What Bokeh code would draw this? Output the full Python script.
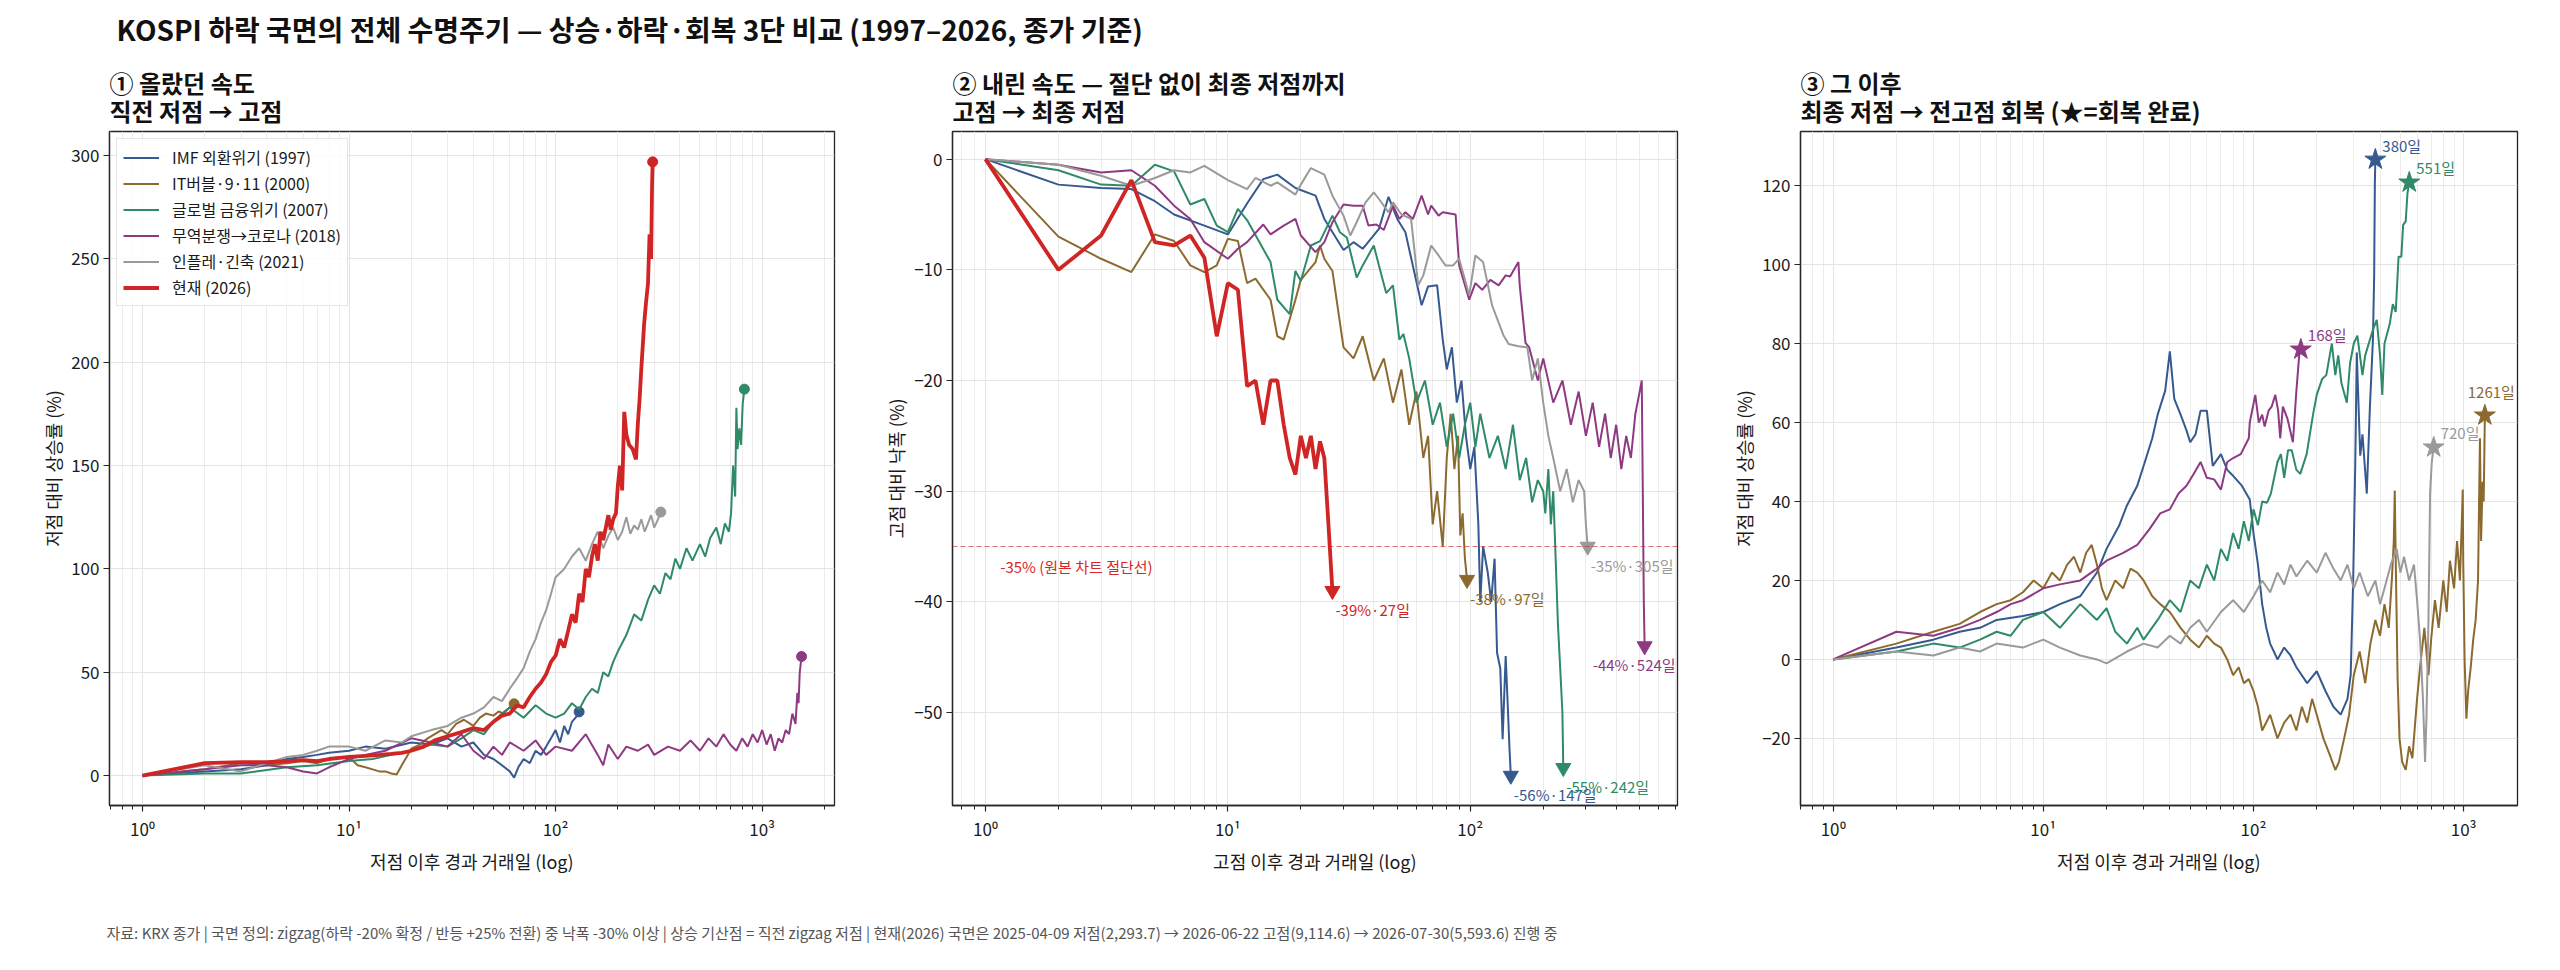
from bokeh.plotting import figure
from bokeh.layouts import column, row
from bokeh.models import Range1d, FixedTicker, Legend, LegendItem, Label, Span
from bokeh.core.properties import value
from bokeh.embed import file_html
from bokeh.resources import INLINE

FONT = "Noto Sans CJK KR"

# ---------------- texts ----------------
TITLE = "KOSPI 하락 국면의 전체 수명주기 — 상승·하락·회복 3단 비교  (1997–2026, 종가 기준)"
SUBTITLES = [("① 올랐던 속도", "직전 저점 → 고점"),
             ("② 내린 속도 — 절단 없이 최종 저점까지", "고점 → 최종 저점"),
             ("③ 그 이후", "최종 저점 → 전고점 회복 (★=회복 완료)")]
XLABELS = ["저점 이후 경과 거래일 (log)", "고점 이후 경과 거래일 (log)", "저점 이후 경과 거래일 (log)"]
YLABELS = ["저점 대비 상승률 (%)", "고점 대비 낙폭 (%)", "저점 대비 상승률 (%)"]
FOOTER = ("자료: KRX 종가 | 국면 정의: zigzag(하락 -20% 확정 / 반등 +25% 전환) 중 낙폭 -30% 이상 | "
          "상승 기산점 = 직전 zigzag 저점 | 현재(2026) 국면은 2025-04-09 저점(2,293.7) → "
          "2026-06-22 고점(9,114.6) → 2026-07-30(5,593.6) 진행 중")
NAMES = ["IMF 외환위기 (1997)", "IT버블·9·11 (2000)", "글로벌 금융위기 (2007)",
         "무역분쟁→코로나 (2018)", "인플레·긴축 (2021)", "현재 (2026)"]
CUT_LEVEL = -35
CUT_TEXT = "-35% (원본 차트 절단선)"
X_TICKS = [1, 10, 100, 1000]
X_TICK_LABELS = ["10⁰", "10¹", "10²", "10³"]
Y_TICKS = [[0, 50, 100, 150, 200, 250, 300],
           [0, -10, -20, -30, -40, -50],
           [-20, 0, 20, 40, 60, 80, 100, 120]]

# ---------------- panel 1: rise (low -> peak) ----------------
imf_up_day = [1, 2, 3, 4, 5, 6, 7, 8, 10, 12, 15, 20, 25, 30, 35, 40, 45, 50, 55, 60, 63, 66, 70, 75, 80,
              85, 90, 95, 100, 105, 110, 115, 120, 125, 130]
imf_up_pct = [0, 2, 3, 5, 8, 9, 10, 11, 12, 14, 13, 16, 15, 18, 14, 16, 10, 8, 5, 2, -1, 4, 8, 6, 12,
              10, 14, 18, 22, 16, 24, 20, 26, 28, 30.8]
it_up_day = [1, 2, 3, 4, 5, 6, 7, 8, 9, 10, 11, 12, 13, 14, 15, 16, 17, 18, 19, 20, 22, 24, 26, 28, 30,
             33, 36, 40, 43, 46, 50, 53, 56, 60, 63]
it_up_pct = [0, 3, 6, 5, 6, 7, 6, 8, 9, 9, 5, 4, 3, 2, 2, 1, 0.5, 5, 9, 13, 15, 18, 20, 22, 20,
             25, 27, 24, 28, 30, 29, 31, 30, 33, 34.7]
gfc_up_day = [1, 2, 3, 5, 7, 10, 13, 16, 20, 25, 30, 35, 40, 45, 50, 55, 60, 70, 80, 90, 100, 110, 120, 130,
              140, 150, 160, 170, 180, 190, 200, 220, 240, 260, 280, 300, 320, 340, 360, 380, 400, 430, 460,
              500, 530, 560, 600, 630, 660, 690, 707, 723, 740, 750, 760, 775, 790, 805, 820]
gfc_up_pct = [0, 1, 1, 4, 5, 7, 8, 10, 12, 15, 14, 18, 22, 20, 26, 30, 33, 28, 34, 30, 28, 30, 35, 32,
              38, 42, 40, 50, 48, 55, 60, 68, 78, 75, 85, 92, 88, 98, 95, 105, 100, 110, 104,
              112, 106, 115, 120, 112, 122, 118, 127, 150, 135, 178, 158, 168, 160, 180, 187]
p18_up_day = [1, 2, 3, 4, 5, 6, 7, 8, 10, 12, 15, 20, 25, 30, 35, 40, 45, 50, 55, 60, 70, 80, 90, 100,
              120, 140, 160, 170, 180, 200, 220, 250, 280, 300, 350, 400, 450, 500, 550, 600, 650, 700,
              750, 800, 850, 900, 950, 1000, 1050, 1100, 1150, 1200, 1250, 1300, 1350, 1400, 1450, 1480,
              1500, 1520, 1551]
p18_up_pct = [0, 3, 5, 5, 4, 2, 1, 4, 8, 10, 12, 18, 16, 14, 20, 12, 8, 14, 10, 16, 12, 17, 10, 14,
              12, 20, 10, 5, 15, 8, 14, 12, 15, 10, 14, 12, 17, 12, 18, 14, 20, 15,
              12, 18, 14, 20, 16, 22, 15, 20, 12, 18, 16, 22, 20, 30, 25, 40,
              35, 50, 57.6]
p21_up_day = [1, 2, 3, 4, 5, 6, 7, 8, 10, 12, 15, 18, 20, 25, 30, 35, 40, 45, 50, 55, 60, 65, 70, 75, 80,
              85, 90, 95, 100, 110, 120, 130, 140, 150, 160, 170, 180, 190, 200, 210, 220, 230, 240, 250,
              260, 270, 280, 290, 300, 310, 323]
p21_up_pct = [0, 5, 2, 6, 9, 10, 12, 14, 14, 12, 17, 16, 19, 22, 24, 28, 30, 33, 38, 36, 42, 47, 52, 60, 66,
              74, 80, 88, 96, 100, 106, 110, 104, 112, 118, 110, 116, 120, 114, 118, 125, 117, 121, 119,
              124, 118, 122, 126, 120, 123, 127.5]
cur_up_day = [1, 2, 3, 4, 5, 6, 7, 8, 9, 10, 12, 14, 16, 18, 20, 23, 26, 30, 35, 40, 45, 50, 55, 60, 65,
              70, 75, 80, 85, 90, 95, 100, 105, 110, 115, 120, 125, 130, 135, 140, 145, 150, 155, 160, 165,
              170, 175, 180, 185, 190, 196, 200, 205, 210, 215, 220, 227, 236, 245, 250, 255, 260, 265,
              268, 274, 280, 285, 290, 293, 295]
cur_up_pct = [0, 6, 6.5, 6.5, 7, 7.5, 7, 8, 8.5, 9, 9.5, 10, 10.5, 11, 12, 14, 17, 19, 21, 23, 22, 26, 29,
              30, 34, 33, 38, 42, 45, 49, 55, 58, 66, 62, 70, 78, 74, 88, 84, 100, 96, 106, 112, 104, 118,
              114, 120, 126, 119, 124, 127, 140, 150, 138, 176, 165, 160, 158, 153, 170, 182, 197, 210,
              218, 229, 238, 262, 250, 285, 297]

# ---------------- panel 2: decline (peak -> final low) ----------------
imf_dn_day = [1, 2, 3, 4, 5, 6, 8, 10, 12, 14, 16, 19, 23, 25, 30, 33, 36, 42, 46, 50, 54, 61, 63, 67, 73,
              77, 80, 84, 88, 92, 96, 100, 104, 108, 110, 113, 118, 122, 126, 129, 133, 136, 140, 143,
              145, 147]
imf_dn_pct = [0, -2.3, -2.6, -2.7, -3.8, -5.0, -6, -6.8, -4, -1.8, -1.4, -2.6, -3.3, -5.4, -8.2, -7.5,
              -8.1, -6.3, -3.4, -5.4, -6.6, -11.8, -13.2, -11.5, -11.4, -16.3, -19, -17, -22, -20, -25,
              -28, -26, -33, -40, -35, -37.3, -40, -36.1, -44.6, -46, -52.4, -44.9, -49.7, -53, -55.7]
it_dn_day = [1, 2, 3, 4, 5, 6, 7, 8, 9, 10, 11, 12, 13, 15, 16, 17, 19, 20, 23, 24, 25, 27, 30, 33, 36,
             40, 44, 48, 52, 56, 60, 64, 67, 70, 73, 77, 80, 83, 86, 89, 91, 93, 95, 97]
it_dn_pct = [0, -7, -9, -10.2, -6.8, -7.4, -9.6, -10.2, -9.6, -7.2, -7.4, -11.2, -10.8, -12.7, -16,
             -16.3, -12.7, -10.9, -9.3, -7.8, -9.0, -10.1, -17, -18, -16, -20, -18, -22, -19, -24, -21,
             -27, -25, -33, -30, -35, -27, -23, -28, -25, -34, -32, -36, -38]
gfc_dn_day = [1, 2, 3, 4, 5, 6, 7, 8, 9, 10, 11, 12, 15, 16, 18, 19, 20, 22, 24, 27, 29, 31, 34, 36, 40,
              42, 45, 48, 51, 53, 56, 60, 65, 70, 75, 80, 85, 90, 95, 100, 105, 110, 120, 130, 140, 150,
              160, 170, 180, 190, 200, 204, 210, 215, 220, 225, 230, 235, 240, 242]
gfc_dn_pct = [0, -1, -2.3, -2.4, -0.5, -1.1, -4.1, -3.6, -6, -6.6, -4.5, -5.5, -9.3, -12.7, -14, -10.1,
              -11, -7.8, -7.4, -5.1, -6.6, -7.1, -10.7, -9.6, -7.8, -9.6, -12.1, -11.4, -16.3, -15.8,
              -18, -22, -20, -24, -22, -26, -23, -27, -24, -22, -26, -23, -27, -25, -28, -24, -29, -27,
              -31, -29, -30, -32, -28, -33, -30, -36, -42, -46, -50, -55]
p18_dn_day = [1, 2, 3, 4, 5, 6, 7, 8, 10, 11, 12, 14, 15, 17, 19, 20, 23, 25, 27, 30, 33, 36, 38, 41, 44,
              48, 51, 54, 58, 63, 67, 69, 74, 77, 87, 90, 99, 105, 112, 121, 131, 140, 146, 158, 160,
              169, 175, 190, 200, 220, 240, 260, 280, 300, 320, 340, 360, 380, 400, 420, 440, 460, 480,
              500, 510, 515, 520, 524]
p18_dn_pct = [0, -0.5, -1.2, -1.0, -2.4, -4.2, -5.4, -7.5, -9.0, -8.1, -7.5, -5.9, -6.8, -6.0, -5.4,
              -6.9, -8.4, -7.5, -5.7, -4.1, -4.2, -4.2, -6.0, -5.9, -6.4, -4.2, -5.4, -4.8, -5.4, -3.3,
              -5.0, -4.2, -5.1, -4.8, -5.0, -9.6, -12.7, -11.2, -11.8, -10.9, -11.4, -10.5, -10.6,
              -9.3, -11.4, -16.6, -17, -20, -18, -22, -20, -24, -21, -25, -22, -26, -23, -27, -24, -28,
              -25, -27, -23, -21, -20, -30, -40, -44]
p21_dn_day = [1, 2, 3, 4, 5, 6, 7, 8, 10, 12, 13, 15, 16, 19, 20, 22, 25, 27, 30, 32, 34, 37, 40, 42, 46,
              48, 52, 57, 61, 64, 69, 74, 79, 85, 90, 99, 105, 113, 123, 137, 144, 158, 172, 180, 190,
              200, 210, 220, 235, 250, 265, 280, 295, 300, 305]
p21_dn_pct = [0, -0.5, -1.5, -2.4, -1.7, -1.0, -1.2, -0.6, -1.9, -2.7, -1.7, -2.4, -2.1, -3.2, -2.3,
              -0.8, -1.4, -3.3, -5.1, -6.9, -5.7, -3.9, -3.0, -3.6, -4.8, -3.9, -5.0, -5.4, -11.4,
              -10.5, -7.8, -8.7, -9.6, -9.6, -9.0, -12.3, -8.7, -9.3, -13.2, -15.9, -16.7, -16.9, -17,
              -20, -18, -22, -25, -27, -30, -28, -31, -29, -30, -33, -35]
cur_dn_day = [1, 2, 3, 4, 5, 6, 7, 8, 9, 10, 11, 12, 13, 14, 15, 16, 17, 18, 19, 20, 21, 22, 23, 24, 25,
              26, 27]
cur_dn_pct = [0, -10, -6.9, -1.9, -7.5, -7.8, -6.9, -8.9, -16, -11.2, -11.8, -20.5, -20, -24, -20, -20,
              -24, -27, -28.5, -25, -27, -25, -28, -25.5, -27, -33, -39]

# ---------------- panel 3: recovery (final low -> prior peak) ----------------
imf_rec_day = [1, 2, 3, 4, 5, 6, 8, 10, 12, 15, 18, 20, 23, 25, 28, 30, 33, 35, 38, 40, 42, 45, 48, 50,
               53, 56, 60, 64, 70, 75, 80, 88, 96, 100, 105, 110, 115, 120, 125, 130, 140, 150, 160, 180,
               200, 220, 240, 260, 280, 290, 298, 305, 310, 322, 330, 346, 358, 370, 375, 378, 380]
imf_rec_pct = [0, 3, 5, 7, 8, 10, 11, 12, 14, 16, 22, 28, 34, 39, 44, 49, 56, 62, 68, 78, 66, 62, 58, 55,
               57, 63, 63, 49, 52, 48, 46.5, 44, 40.5, 32, 24, 14, 8, 4, 2, 0, 3, 1, -2, -6, -3, -8, -12,
               -14, -10, -4, 20, 50, 77.7, 51.6, 57, 42, 64, 81, 97, 121, 126.6]
it_rec_day = [1, 2, 3, 4, 5, 6, 7, 8, 9, 10, 11, 12, 13, 14, 15, 16, 17, 18, 19, 20, 22, 24, 26, 28, 30,
              33, 36, 40, 45, 50, 55, 60, 65, 70, 75, 80, 85, 90, 95, 100, 105, 110, 120, 130, 140, 150,
              160, 170, 180, 190, 200, 215, 230, 245, 255, 270, 285, 300, 320, 340, 360, 380, 400, 420,
              440, 455, 465, 470, 475, 485, 495, 510, 530, 550, 570, 600, 620, 650, 680, 700, 730, 760,
              800, 830, 860, 900, 930, 960, 990, 995, 1010, 1030, 1050, 1080, 1110, 1140, 1170, 1195,
              1210, 1230, 1245, 1261]
it_rec_pct = [0, 4, 7, 9, 12, 14, 15, 17, 20, 18, 22, 20, 24, 26, 22, 27, 29, 24, 18, 15, 20, 18, 23, 22,
              20, 16, 14, 12, 8, 5, 3, 6, 4, 3, 0, -4, -2, -6, -5, -8, -12, -18, -14, -20, -16, -14, -18,
              -12, -16, -10, -14, -20, -24, -28, -26, -20, -14, -4, 2, -6, 4, 10, 6, 14, 8, 20, 30, 42.8,
              25, -5, -20, -26, -28, -22, -25, -10, -2, 8, -4, 5, 15, 8, 20, 12, 25, 18, 30, 20, 43, 25,
              0, -15, -8, -2, 5, 10, 20, 56, 30, 45, 40, 61.8]
gfc_rec_day = [1, 2, 3, 4, 5, 6, 7, 8, 10, 12, 15, 18, 20, 22, 25, 28, 30, 35, 40, 45, 50, 55, 60, 65, 70,
               75, 80, 85, 90, 95, 100, 105, 110, 116, 121, 130, 135, 140, 146, 152, 160, 167, 179, 192,
               200, 212, 222, 236, 245, 253, 262, 278, 288, 300, 312, 330, 340, 370, 386, 400, 410, 420,
               445, 460, 475, 490, 505, 515, 530, 540, 551]
gfc_rec_pct = [0, 2, 4, 3, 5, 7, 6, 10, 12, 8, 14, 10, 13, 7, 4, 8, 5, 10, 15, 12, 20, 18, 24, 20, 28,
               25, 32, 28, 35, 30, 38, 34, 40, 39.7, 42, 50, 52, 46, 53, 53, 48, 47, 52, 62, 67, 71, 72,
               80, 72, 77, 70, 65, 75, 80, 82, 72, 77, 83.5, 86, 77, 67, 80, 85, 90, 88, 102, 102, 110,
               111, 118, 120.8]
p18_rec_day = [1, 2, 3, 4, 5, 6, 7, 8, 10, 12, 15, 18, 20, 24, 28, 32, 36, 40, 44, 48, 52, 56, 60, 65, 70,
               75, 80, 87, 95, 96, 102, 106, 110, 113, 118, 122, 127, 131, 134, 138, 145, 154, 160, 165,
               168]
p18_rec_pct = [0, 7, 6, 8, 10, 12, 14, 15, 18, 19, 20, 23, 25, 27, 29, 33, 37, 38, 42, 44, 47, 50, 46,
               45.6, 43, 50, 51, 52, 56, 60, 67, 60, 62, 59, 63, 64, 67, 63, 56, 64, 61, 55, 68, 77, 78.5]
p21_rec_day = [1, 2, 3, 4, 5, 6, 8, 10, 12, 15, 18, 20, 25, 30, 35, 40, 45, 50, 55, 60, 70, 80, 90, 100,
               110, 120, 130, 140, 150, 160, 180, 200, 220, 240, 260, 280, 300, 320, 350, 380, 400, 420,
               450, 480, 500, 520, 550, 580, 600, 620, 640, 655, 665, 680, 692, 705, 720]
p21_rec_pct = [0, 2, 1, 3, 2, 4, 3, 5, 3, 1, 0, -1, 2, 4, 3, 6, 4, 8, 10, 7, 12, 15, 12, 16, 20, 17, 22,
               19, 24, 21, 25, 22, 27, 23, 20, 24, 18, 22, 16, 20, 14, 18, 24, 28, 22, 26, 20, 24, 15, 5,
               -10, -26, -15, 10, 42, 50, 53.7]

RISE = [(imf_up_day, imf_up_pct), (it_up_day, it_up_pct), (gfc_up_day, gfc_up_pct),
        (p18_up_day, p18_up_pct), (p21_up_day, p21_up_pct), (cur_up_day, cur_up_pct)]
FALL = [(imf_dn_day, imf_dn_pct), (it_dn_day, it_dn_pct), (gfc_dn_day, gfc_dn_pct),
        (p18_dn_day, p18_dn_pct), (p21_dn_day, p21_dn_pct), (cur_dn_day, cur_dn_pct)]
RECOVER = [(imf_rec_day, imf_rec_pct), (it_rec_day, it_rec_pct), (gfc_rec_day, gfc_rec_pct),
           (p18_rec_day, p18_rec_pct), (p21_rec_day, p21_rec_pct), None]

# ---------------- styles / layout ----------------
COLORS = ["#36598f", "#8c6a2f", "#2f8a68", "#8e3a82", "#9a9a9a", "#d12424"]
WIDTHS = [2, 2, 2, 2, 2, 3.8]
AX = "#262626"
TXT = "#1a1a1a"
GRID = "#e4e4e4"
MINOR_GRID = "#ececec"

PAGE_W = 2544
HEAD_H = 52
PANEL_H = 830
FOOT_H = 72
FIG_W = [877, 851, 816]
BORDER_L = [109, 75, 62]
BORDER_R = [43, 51, 27]
X_RANGES = [(10 ** -0.1595, 10 ** 3.3501), (10 ** -0.136, 10 ** 2.855), (10 ** -0.155, 10 ** 3.256)]
Y_RANGES = [(-14.5, 311.7), (-58.4, 2.5), (-37.0, 133.7)]
MINOR_X = [m * 10 ** k for k in range(-1, 4) for m in range(2, 10)]
# label placement (px): panel 2 arrows, panel 3 stars (kept inside the frame)
P2_ALIGN = ["left", "left", "left", "right", "left", "left"]
P2_DX = [3, 3, 3, 31, 3, 3]
P3_ALIGN = ["left", "right", "left", "left", "left"]
P3_DX = [7, 30, 7, 7, 7]
P3_DY = [4, 13, 4, 4, 4]


def text_fig(w, h):
    p = figure(width=w, height=h, x_range=Range1d(0, w), y_range=Range1d(0, h),
               x_axis_type=None, y_axis_type=None, output_backend="svg",
               toolbar_location=None, tools="", min_border=0)
    p.outline_line_color = None
    p.background_fill_color = "white"
    p.border_fill_color = "white"
    return p


def panel(i):
    p = figure(width=FIG_W[i], height=PANEL_H, x_axis_type="log",
               x_range=Range1d(*X_RANGES[i]), y_range=Range1d(*Y_RANGES[i]),
               output_backend="svg", toolbar_location=None, tools="",
               min_border_left=BORDER_L[i], min_border_right=BORDER_R[i],
               min_border_top=79, min_border_bottom=77)
    p.title.text = "\n".join(SUBTITLES[i])
    p.title.align = "left"
    p.title.text_font = FONT
    p.title.text_font_size = "24px"
    p.title.text_font_style = "bold"
    p.title.text_color = "#111111"
    p.title.text_line_height = 0.8
    p.title.standoff = 7
    p.background_fill_color = "white"
    p.border_fill_color = "white"
    p.outline_line_color = AX
    p.outline_line_width = 1.3
    xt = FixedTicker(ticks=X_TICKS, minor_ticks=MINOR_X)
    yt = FixedTicker(ticks=Y_TICKS[i])
    p.xaxis.ticker = xt
    p.yaxis.ticker = yt
    p.xgrid.ticker = xt
    p.ygrid.ticker = yt
    p.xaxis.major_label_overrides = {t: l for t, l in zip(X_TICKS, X_TICK_LABELS)}
    p.xgrid.grid_line_color = GRID
    p.xgrid.minor_grid_line_color = MINOR_GRID
    p.ygrid.grid_line_color = GRID
    for ax in p.axis:
        ax.axis_line_color = AX
        ax.axis_line_width = 1.3
        ax.major_tick_line_color = AX
        ax.major_tick_line_width = 1.2
        ax.major_tick_out = 6
        ax.major_tick_in = 0
        ax.major_label_text_font = FONT
        ax.major_label_text_font_size = "17px"
        ax.major_label_text_color = TXT
        ax.major_label_standoff = 4
        ax.axis_label_text_font = FONT
        ax.axis_label_text_font_size = "18px"
        ax.axis_label_text_font_style = "normal"
        ax.axis_label_text_color = TXT
        ax.axis_label_standoff = 4
    p.xaxis.minor_tick_line_color = AX
    p.xaxis.minor_tick_out = 4
    p.xaxis.minor_tick_in = 0
    p.yaxis.minor_tick_line_color = None
    p.yaxis.axis_label_standoff = 2
    p.xaxis.axis_label = XLABELS[i]
    p.yaxis.axis_label = YLABELS[i]
    return p


def note(x, y, text, color, dx, dy, baseline, align="left"):
    return Label(x=x, y=y, x_offset=dx, y_offset=dy, text=text, text_font=FONT,
                 text_font_size="15px", text_color=color, text_baseline=baseline,
                 text_align=align)


# ---------------- header ----------------
head = text_fig(PAGE_W, HEAD_H)
head.text(x=[116], y=[24], text=[TITLE], text_font=value(FONT), text_font_size="28px",
          text_font_style="bold", text_baseline="middle", text_align="left", text_color="#111111")

# ---------------- panel 1 ----------------
p1 = panel(0)
items = []
for (d, v), c, w, n in zip(RISE, COLORS, WIDTHS, NAMES):
    r = p1.line(d, v, line_color=c, line_width=w)
    p1.scatter([d[-1]], [v[-1]], marker="circle", size=10, fill_color=c, line_color=c)
    items.append(LegendItem(label=n, renderers=[r]))
leg = Legend(items=items, location="top_left", margin=7, padding=6, spacing=2,
             label_height=23, glyph_height=23, glyph_width=36, label_standoff=13,
             label_text_font=FONT, label_text_font_size="16px", label_text_color=TXT,
             border_line_color="#cccccc", border_line_width=1,
             background_fill_color="white", background_fill_alpha=0.85)
p1.add_layout(leg)

# ---------------- panel 2 ----------------
p2 = panel(1)
p2.add_layout(Span(location=CUT_LEVEL, dimension="width", line_color="#d62728", line_alpha=0.65,
                   line_dash="5 3", line_width=1.2))
p2.add_layout(note(1.15, CUT_LEVEL, CUT_TEXT, "#d62728", 0, -9, "top"))
for k, ((d, v), c, w) in enumerate(zip(FALL, COLORS, WIDTHS)):
    p2.line(d, v, line_color=c, line_width=w)
    p2.scatter([d[-1]], [v[-1]], marker="inverted_triangle", size=15, fill_color=c, line_color=c)
    p2.add_layout(note(d[-1], v[-1], f"{v[-1]:.0f}%·{d[-1]}일", c, P2_DX[k], -8, "top", P2_ALIGN[k]))

# ---------------- panel 3 ----------------
p3 = panel(2)
for k, (ser, c) in enumerate(zip(RECOVER, COLORS)):
    if ser is None:
        continue
    d, v = ser
    p3.line(d, v, line_color=c, line_width=2)
    p3.scatter([d[-1]], [v[-1]], marker="star", size=22, fill_color=c, line_color=c)
    p3.add_layout(note(d[-1], v[-1], f"{d[-1]}일", c, P3_DX[k], P3_DY[k], "bottom", P3_ALIGN[k]))

# ---------------- footer ----------------
foot = text_fig(PAGE_W, FOOT_H)
foot.text(x=[106], y=[22], text=[FOOTER], text_font=value(FONT), text_font_size="15px",
          text_baseline="middle", text_align="left", text_color="#555555")

layout = column(head, row(p1, p2, p3), foot)
open("out.html", "w").write(file_html(layout, INLINE))
